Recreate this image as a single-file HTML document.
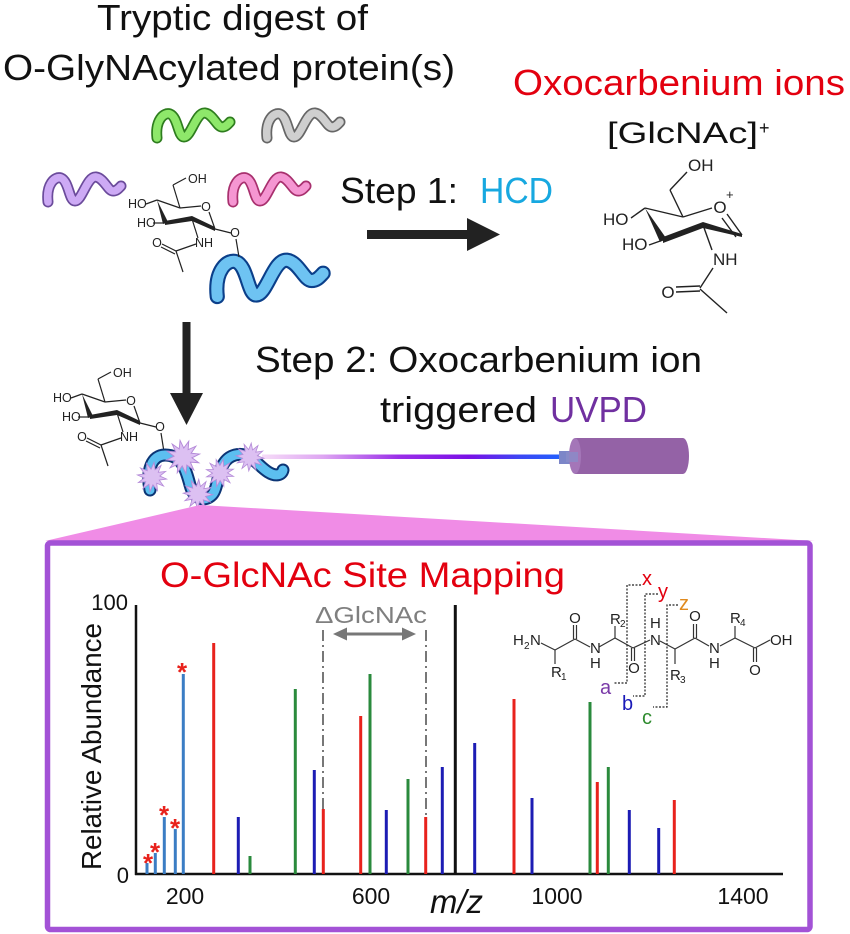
<!DOCTYPE html>
<html>
<head>
<meta charset="utf-8">
<style>
html,body{margin:0;padding:0;background:#fff;}
svg{display:block;}
text{font-family:"Liberation Sans",Arial,sans-serif;}
</style>
</head>
<body>
<svg width="850" height="934" viewBox="0 0 850 934" xmlns="http://www.w3.org/2000/svg">
<defs>
<linearGradient id="beam" x1="262" y1="0" x2="566" y2="0" gradientUnits="userSpaceOnUse">
<stop offset="0" stop-color="#f6dcf8"/>
<stop offset="0.2" stop-color="#dea6f2"/>
<stop offset="0.45" stop-color="#9a2ee8"/>
<stop offset="0.68" stop-color="#7a10e6"/>
<stop offset="0.85" stop-color="#3c48f4"/>
<stop offset="1" stop-color="#1e62ff"/>
</linearGradient>
</defs>
<rect width="850" height="934" fill="#fff"/>

<!-- Header texts -->
<text x="97" y="30" font-size="36" textLength="271" lengthAdjust="spacingAndGlyphs" fill="#111">Tryptic digest of</text>
<text x="3" y="80" font-size="36" textLength="452" lengthAdjust="spacingAndGlyphs" fill="#111">O-GlyNAcylated protein(s)</text>
<text x="513" y="95" font-size="36" textLength="332" lengthAdjust="spacingAndGlyphs" fill="#e3000f">Oxocarbenium ions</text>
<text x="607" y="143" font-size="30" textLength="151" lengthAdjust="spacingAndGlyphs" fill="#111">[GlcNAc]</text>
<text x="759" y="134" font-size="18" fill="#111">+</text>
<text x="340" y="203" font-size="36" textLength="118" lengthAdjust="spacingAndGlyphs" fill="#111">Step 1:</text>
<text x="480" y="203" font-size="36" textLength="73" lengthAdjust="spacingAndGlyphs" fill="#17a8e0">HCD</text>
<text x="255" y="372" font-size="36" textLength="447" lengthAdjust="spacingAndGlyphs" fill="#111">Step 2: Oxocarbenium ion</text>
<text x="380" y="422" font-size="36" textLength="157" lengthAdjust="spacingAndGlyphs" fill="#111">triggered</text>
<text x="550" y="422" font-size="36" textLength="97" lengthAdjust="spacingAndGlyphs" fill="#7030a0">UVPD</text>

<!-- Peptide waves -->
<g transform="translate(152,108)" fill="none" stroke-linecap="round" stroke-linejoin="round">
<path d="M5,30 C3,12 12,4 18,6 C26,9 26,29 32,29 C39,29 44,4 53,5 C61,6 65,19 70,19 C74,19 76,16 78,14" stroke="#2e7d1e" stroke-width="11"/>
<path d="M5,30 C3,12 12,4 18,6 C26,9 26,29 32,29 C39,29 44,4 53,5 C61,6 65,19 70,19 C74,19 76,16 78,14" stroke="#8ee86a" stroke-width="7.6"/>
</g>
<g transform="translate(262,108)" fill="none" stroke-linecap="round" stroke-linejoin="round">
<path d="M5,30 C3,12 12,4 18,6 C26,9 26,29 32,29 C39,29 44,4 53,5 C61,6 65,19 70,19 C74,19 76,16 78,14" stroke="#666" stroke-width="11"/>
<path d="M5,30 C3,12 12,4 18,6 C26,9 26,29 32,29 C39,29 44,4 53,5 C61,6 65,19 70,19 C74,19 76,16 78,14" stroke="#cfcfcf" stroke-width="7.6"/>
</g>
<g transform="translate(43,172)" fill="none" stroke-linecap="round" stroke-linejoin="round">
<path d="M5,30 C3,12 12,4 18,6 C26,9 26,29 32,29 C39,29 44,4 53,5 C61,6 65,19 70,19 C74,19 76,16 78,14" stroke="#6b4b9b" stroke-width="11"/>
<path d="M5,30 C3,12 12,4 18,6 C26,9 26,29 32,29 C39,29 44,4 53,5 C61,6 65,19 70,19 C74,19 76,16 78,14" stroke="#cdaaf5" stroke-width="7.6"/>
</g>
<g transform="translate(228,172)" fill="none" stroke-linecap="round" stroke-linejoin="round">
<path d="M5,30 C3,12 12,4 18,6 C26,9 26,29 32,29 C39,29 44,4 53,5 C61,6 65,19 70,19 C74,19 76,16 78,14" stroke="#a8306e" stroke-width="11"/>
<path d="M5,30 C3,12 12,4 18,6 C26,9 26,29 32,29 C39,29 44,4 53,5 C61,6 65,19 70,19 C74,19 76,16 78,14" stroke="#f596d2" stroke-width="7.6"/>
</g>
<g transform="translate(210,253) scale(1.45)" fill="none" stroke-linecap="round" stroke-linejoin="round">
<path d="M5,30 C3,12 12,4 18,6 C26,9 26,29 32,29 C39,29 44,4 53,5 C61,6 65,19 70,19 C74,19 76,16 78,14" stroke="#0b3f8a" stroke-width="10.5"/>
<path d="M5,30 C3,12 12,4 18,6 C26,9 26,29 32,29 C39,29 44,4 53,5 C61,6 65,19 70,19 C74,19 76,16 78,14" stroke="#6ec3f2" stroke-width="7.6"/>
</g>

<!-- GlcNAc structure 1 -->
<g>
<g stroke="#222" stroke-width="1.2" fill="none">
<line x1="173" y1="185" x2="186" y2="178"/>
<line x1="173" y1="185" x2="180" y2="208"/>
<line x1="180" y1="208" x2="201" y2="206"/>
<line x1="157" y1="200" x2="180" y2="208"/>
<line x1="146" y1="204" x2="157" y2="200"/>
<line x1="153" y1="223" x2="165" y2="223"/>
<line x1="215" y1="229" x2="209" y2="212"/>
<line x1="215" y1="229" x2="231" y2="233"/>
<line x1="236" y1="239" x2="239" y2="257"/>
<line x1="192" y1="219" x2="198" y2="238"/>
<line x1="196" y1="244" x2="176" y2="251"/>
<line x1="176" y1="251" x2="162" y2="244"/>
<line x1="175" y1="254" x2="161" y2="247"/>
<line x1="176" y1="251" x2="183" y2="272"/>
</g>
<g fill="#222">
<polygon points="157,200 163,224 168,222"/>
<polygon points="165,221 192,216 192,221 165,225"/>
<polygon points="192,216 215,227 215,231 192,221"/>
</g>
<g font-size="12.5" fill="#222">
<text x="188" y="183">OH</text>
<text x="128" y="208">HO</text>
<text x="137" y="227">HO</text>
<text x="206" y="211" text-anchor="middle">O</text>
<text x="235" y="237" text-anchor="middle">O</text>
<text x="195" y="247">NH</text>
<text x="157" y="247" text-anchor="middle">O</text>
</g>
</g>

<!-- Horizontal arrow -->
<rect x="367" y="230" width="103" height="9" fill="#222"/>
<polygon points="467,218 500,234.5 467,251" fill="#222"/>

<!-- Oxocarbenium structure -->
<g stroke="#222" stroke-width="1.4" fill="none">
<line x1="670" y1="190" x2="687" y2="172"/>
<line x1="670" y1="190" x2="683" y2="217"/>
<line x1="683" y1="217" x2="712" y2="208"/>
<line x1="645" y1="208" x2="683" y2="217"/>
<line x1="631" y1="218" x2="645" y2="208"/>
<line x1="649" y1="245" x2="663" y2="240"/>
<line x1="742" y1="235" x2="727" y2="214"/>
<line x1="736" y1="237" x2="722" y2="218"/>
<line x1="703" y1="225" x2="712" y2="250"/>
<line x1="713" y1="268" x2="700" y2="288"/>
<line x1="676" y1="287" x2="700" y2="286"/>
<line x1="676" y1="292" x2="700" y2="291"/>
<line x1="700" y1="289" x2="727" y2="313"/>
</g>
<g fill="#222">
<polygon points="645,208 660,242 666,238"/>
<polygon points="663,237 703,222 703,228 663,243"/>
<polygon points="703,222 742,234 742,237 703,228"/>
</g>
<g font-size="17" fill="#222">
<text x="688" y="171">OH</text>
<text x="603" y="225">HO</text>
<text x="622" y="250">HO</text>
<text x="713" y="265">NH</text>
<text x="668" y="298" text-anchor="middle">O</text>
<text x="720" y="213" text-anchor="middle">O</text>
<text x="726" y="199" font-size="13">+</text>
</g>

<!-- Vertical arrow -->
<rect x="182.5" y="322" width="8" height="75" fill="#222"/>
<polygon points="170,393 203,393 186.5,425" fill="#222"/>

<!-- GlcNAc structure 2 -->
<g transform="translate(-75,194)">
<g stroke="#222" stroke-width="1.2" fill="none">
<line x1="173" y1="185" x2="186" y2="178"/>
<line x1="173" y1="185" x2="180" y2="208"/>
<line x1="180" y1="208" x2="201" y2="206"/>
<line x1="157" y1="200" x2="180" y2="208"/>
<line x1="146" y1="204" x2="157" y2="200"/>
<line x1="153" y1="223" x2="165" y2="223"/>
<line x1="215" y1="229" x2="209" y2="212"/>
<line x1="215" y1="229" x2="231" y2="233"/>
<line x1="236" y1="239" x2="239" y2="258"/>
<line x1="192" y1="219" x2="198" y2="238"/>
<line x1="196" y1="244" x2="176" y2="251"/>
<line x1="176" y1="251" x2="162" y2="244"/>
<line x1="175" y1="254" x2="161" y2="247"/>
<line x1="176" y1="251" x2="183" y2="272"/>
</g>
<g fill="#222">
<polygon points="157,200 163,224 168,222"/>
<polygon points="165,221 192,216 192,221 165,225"/>
<polygon points="192,216 215,227 215,231 192,221"/>
</g>
<g font-size="12.5" fill="#222">
<text x="188" y="183">OH</text>
<text x="128" y="208">HO</text>
<text x="137" y="227">HO</text>
<text x="206" y="211" text-anchor="middle">O</text>
<text x="235" y="237" text-anchor="middle">O</text>
<text x="195" y="247">NH</text>
<text x="157" y="247" text-anchor="middle">O</text>
</g>
</g>

<!-- Laser beam -->
<rect x="262" y="454.5" width="304" height="4.5" fill="url(#beam)"/>
<!-- Laser -->
<rect x="559" y="451" width="22" height="13" fill="#7c86c8"/>
<path d="M575,438 L683,438 A6,18 0 0 1 683,474 L575,474 Z" fill="#9462a6"/>
<ellipse cx="575" cy="456" rx="6" ry="18" fill="#a476b8"/>
<rect x="566" y="452" width="12" height="10" fill="#8a8cc8" opacity="0.8"/>

<!-- Spiral peptide with bursts -->
<g fill="none" stroke-linecap="round" stroke-linejoin="round">
<path d="M150,490 C146,470 152,455 165,455 C182,455 186,470 190,485 C194,500 205,502 212,495 C220,487 216,460 235,455 C250,451 258,466 268,472 C276,477 282,475 283,470" stroke="#0c3575" stroke-width="13"/>
<path d="M150,490 C146,470 152,455 165,455 C182,455 186,470 190,485 C194,500 205,502 212,495 C220,487 216,460 235,455 C250,451 258,466 268,472 C276,477 282,475 283,470" stroke="#5cbff0" stroke-width="9"/>
</g>
<g fill="#dcc0f2" stroke="#b48ad8" stroke-width="0.8">
<path transform="translate(152,477) rotate(8) scale(1.05)" d="M14,0 L7.24,1.94 L12.12,7 L5.3,5.3 L7,12.12 L1.94,7.24 L0,14 L-1.94,7.24 L-7,12.12 L-5.3,5.3 L-12.12,7 L-7.24,1.94 L-14,0 L-7.24,-1.94 L-12.12,-7 L-5.3,-5.3 L-7,-12.12 L-1.94,-7.24 L0,-14 L1.94,-7.24 L7,-12.12 L5.3,-5.3 L12.12,-7 L7.24,-1.94 Z"/>
<path transform="translate(183,457) rotate(20) scale(1.2)" d="M14,0 L7.24,1.94 L12.12,7 L5.3,5.3 L7,12.12 L1.94,7.24 L0,14 L-1.94,7.24 L-7,12.12 L-5.3,5.3 L-12.12,7 L-7.24,1.94 L-14,0 L-7.24,-1.94 L-12.12,-7 L-5.3,-5.3 L-7,-12.12 L-1.94,-7.24 L0,-14 L1.94,-7.24 L7,-12.12 L5.3,-5.3 L12.12,-7 L7.24,-1.94 Z"/>
<path transform="translate(198,494) rotate(3) scale(1.05)" d="M14,0 L7.24,1.94 L12.12,7 L5.3,5.3 L7,12.12 L1.94,7.24 L0,14 L-1.94,7.24 L-7,12.12 L-5.3,5.3 L-12.12,7 L-7.24,1.94 L-14,0 L-7.24,-1.94 L-12.12,-7 L-5.3,-5.3 L-7,-12.12 L-1.94,-7.24 L0,-14 L1.94,-7.24 L7,-12.12 L5.3,-5.3 L12.12,-7 L7.24,-1.94 Z"/>
<path transform="translate(220,473) rotate(14)" d="M14,0 L7.24,1.94 L12.12,7 L5.3,5.3 L7,12.12 L1.94,7.24 L0,14 L-1.94,7.24 L-7,12.12 L-5.3,5.3 L-12.12,7 L-7.24,1.94 L-14,0 L-7.24,-1.94 L-12.12,-7 L-5.3,-5.3 L-7,-12.12 L-1.94,-7.24 L0,-14 L1.94,-7.24 L7,-12.12 L5.3,-5.3 L12.12,-7 L7.24,-1.94 Z"/>
<path transform="translate(250,457) rotate(5)" d="M14,0 L7.24,1.94 L12.12,7 L5.3,5.3 L7,12.12 L1.94,7.24 L0,14 L-1.94,7.24 L-7,12.12 L-5.3,5.3 L-12.12,7 L-7.24,1.94 L-14,0 L-7.24,-1.94 L-12.12,-7 L-5.3,-5.3 L-7,-12.12 L-1.94,-7.24 L0,-14 L1.94,-7.24 L7,-12.12 L5.3,-5.3 L12.12,-7 L7.24,-1.94 Z"/>
</g>

<!-- Pink zoom triangle -->
<polygon points="200,505 45,541 815,541" fill="#f08ce6"/>

<!-- Box -->
<rect x="47.5" y="543" width="762.5" height="386.5" rx="3" fill="#fff" stroke="#a352d6" stroke-width="5.5"/>

<!-- Box title -->
<text x="160" y="587" font-size="35" textLength="405" lengthAdjust="spacingAndGlyphs" fill="#e3000f">O-GlcNAc Site Mapping</text>

<!-- Axes -->
<line x1="136" y1="605" x2="136" y2="875" stroke="#111" stroke-width="2.5"/>
<line x1="135" y1="874" x2="783" y2="874" stroke="#111" stroke-width="2.5"/>
<text x="128" y="610" font-size="22" text-anchor="end" fill="#111">100</text>
<text x="129" y="883" font-size="22" text-anchor="end" fill="#111">0</text>
<text x="185" y="904" font-size="23" text-anchor="middle" fill="#111">200</text>
<text x="371" y="904" font-size="23" text-anchor="middle" fill="#111">600</text>
<text x="557" y="904" font-size="23" text-anchor="middle" fill="#111">1000</text>
<text x="743" y="904" font-size="23" text-anchor="middle" fill="#111">1400</text>
<text transform="translate(101,746.5) rotate(-90)" x="0" y="0" font-size="28" text-anchor="middle" textLength="247" lengthAdjust="spacingAndGlyphs" fill="#111">Relative Abundance</text>
<text x="430" y="913" font-size="33" font-style="italic" textLength="53" lengthAdjust="spacingAndGlyphs" fill="#111">m/z</text>

<!-- Delta GlcNAc annotation -->
<text x="315" y="623" font-size="23" textLength="112" lengthAdjust="spacingAndGlyphs" fill="#7f7f7f">ΔGlcNAc</text>
<line x1="340" y1="634" x2="409" y2="634" stroke="#777" stroke-width="3"/>
<polygon points="333,634 347,627.5 347,640.5" fill="#777"/>
<polygon points="416,634 402,627.5 402,640.5" fill="#777"/>
<line x1="323" y1="630" x2="323" y2="809" stroke="#777" stroke-width="2" stroke-dasharray="11 4 2 4"/>
<line x1="426" y1="630" x2="426" y2="817" stroke="#777" stroke-width="2" stroke-dasharray="11 4 2 4"/>

<!-- Bars -->
<g stroke-width="3">
<line x1="147" y1="874" x2="147" y2="863" stroke="#3b7dc4"/>
<line x1="155.3" y1="874" x2="155.3" y2="853" stroke="#3b7dc4"/>
<line x1="164.3" y1="874" x2="164.3" y2="817" stroke="#3b7dc4"/>
<line x1="175.3" y1="874" x2="175.3" y2="829" stroke="#3b7dc4"/>
<line x1="183.3" y1="874" x2="183.3" y2="674" stroke="#3b7dc4"/>
<line x1="213.7" y1="874" x2="213.7" y2="643" stroke="#e8221c"/>
<line x1="238.3" y1="874" x2="238.3" y2="817" stroke="#1c1cb4"/>
<line x1="250" y1="874" x2="250" y2="856" stroke="#2a8a3c"/>
<line x1="295.3" y1="874" x2="295.3" y2="689" stroke="#2a8a3c"/>
<line x1="314.3" y1="874" x2="314.3" y2="770" stroke="#1c1cb4"/>
<line x1="323.3" y1="874" x2="323.3" y2="809" stroke="#e8221c"/>
<line x1="360.7" y1="874" x2="360.7" y2="716" stroke="#e8221c"/>
<line x1="370" y1="874" x2="370" y2="674" stroke="#2a8a3c"/>
<line x1="386.3" y1="874" x2="386.3" y2="810" stroke="#1c1cb4"/>
<line x1="408" y1="874" x2="408" y2="779" stroke="#2a8a3c"/>
<line x1="425.7" y1="874" x2="425.7" y2="817" stroke="#e8221c"/>
<line x1="442.3" y1="874" x2="442.3" y2="767" stroke="#1c1cb4"/>
<line x1="455.3" y1="874" x2="455.3" y2="605" stroke="#111"/>
<line x1="474.7" y1="874" x2="474.7" y2="743" stroke="#1c1cb4"/>
<line x1="514" y1="874" x2="514" y2="699" stroke="#e8221c"/>
<line x1="532" y1="874" x2="532" y2="798" stroke="#1c1cb4"/>
<line x1="590" y1="874" x2="590" y2="702" stroke="#2a8a3c"/>
<line x1="597.3" y1="874" x2="597.3" y2="782" stroke="#e8221c"/>
<line x1="608.3" y1="874" x2="608.3" y2="767" stroke="#2a8a3c"/>
<line x1="629.3" y1="874" x2="629.3" y2="810" stroke="#1c1cb4"/>
<line x1="658.7" y1="874" x2="658.7" y2="828" stroke="#1c1cb4"/>
<line x1="674.3" y1="874" x2="674.3" y2="800" stroke="#e8221c"/>
</g>

<!-- Stars -->
<g font-size="26" font-weight="bold" fill="#e8221c" text-anchor="middle">
<text x="148" y="872">*</text>
<text x="155" y="861">*</text>
<text x="164" y="824">*</text>
<text x="175" y="837">*</text>
<text x="182" y="681">*</text>
</g>

<!-- Peptide structure -->
<g stroke="#333" stroke-width="1.2" fill="none">
<line x1="541" y1="643" x2="555" y2="650"/>
<line x1="555" y1="650" x2="555" y2="664"/>
<line x1="555" y1="650" x2="575" y2="639"/>
<line x1="573.5" y1="639" x2="573.5" y2="625"/>
<line x1="576.5" y1="639" x2="576.5" y2="625"/>
<line x1="575" y1="639" x2="590" y2="647"/>
<line x1="599" y1="647" x2="615" y2="638"/>
<line x1="615" y1="638" x2="615" y2="626"/>
<line x1="615" y1="638" x2="633" y2="648"/>
<line x1="631.5" y1="648" x2="631.5" y2="661"/>
<line x1="634.5" y1="648" x2="634.5" y2="661"/>
<line x1="633" y1="648" x2="650" y2="640"/>
<line x1="660" y1="641" x2="675" y2="649"/>
<line x1="675" y1="649" x2="675" y2="664"/>
<line x1="675" y1="649" x2="695" y2="638"/>
<line x1="693.5" y1="638" x2="693.5" y2="624"/>
<line x1="696.5" y1="638" x2="696.5" y2="624"/>
<line x1="695" y1="638" x2="709" y2="646"/>
<line x1="720" y1="646" x2="735" y2="638"/>
<line x1="735" y1="638" x2="735" y2="626"/>
<line x1="735" y1="638" x2="755" y2="648"/>
<line x1="755" y1="648" x2="770" y2="640"/>
<line x1="753.5" y1="648" x2="753.5" y2="662"/>
<line x1="756.5" y1="648" x2="756.5" y2="662"/>
</g>
<g font-size="15" fill="#222">
<text x="513" y="645">H</text><text x="524" y="649" font-size="10">2</text><text x="530" y="645">N</text>
<text x="551" y="677">R</text><text x="561" y="680" font-size="10">1</text>
<text x="575" y="623" text-anchor="middle">O</text>
<text x="590" y="653">N</text><text x="590" y="668">H</text>
<text x="610" y="624">R</text><text x="620" y="627" font-size="10">2</text>
<text x="634" y="673" text-anchor="middle">O</text>
<text x="650" y="645">N</text><text x="650" y="628">H</text>
<text x="670" y="680">R</text><text x="680" y="683" font-size="10">3</text>
<text x="695" y="621" text-anchor="middle">O</text>
<text x="709" y="653">N</text><text x="709" y="668">H</text>
<text x="730" y="623">R</text><text x="740" y="626" font-size="10">4</text>
<text x="770" y="645">OH</text>
<text x="755" y="675" text-anchor="middle">O</text>
</g>
<g stroke="#222" stroke-width="1.2" fill="none" stroke-dasharray="2 1.5">
<polyline points="641,585 627,585 627,683 613,683"/>
<polyline points="658,594 645,594 645,696 633,696"/>
<polyline points="678,605 667,605 667,707 653,707"/>
</g>
<g font-size="20">
<text x="642" y="585" fill="#e3000f">x</text>
<text x="658" y="598" fill="#e3000f">y</text>
<text x="679" y="610" fill="#e08a1e">z</text>
<text x="600" y="694" fill="#7a3aa8">a</text>
<text x="622" y="710" fill="#1a1ab8">b</text>
<text x="642" y="724" fill="#2e8b2e">c</text>
</g>
</svg>
</body>
</html>
